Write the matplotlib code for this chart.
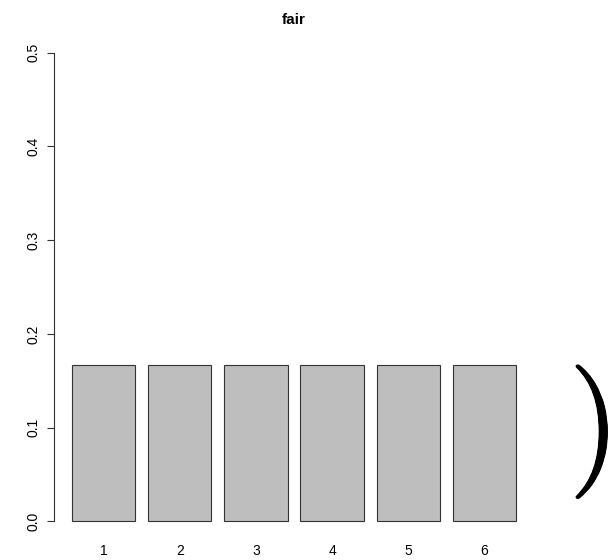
import matplotlib
matplotlib.use("Agg")
import matplotlib.pyplot as plt
import matplotlib.patheffects as pe
import numpy as np

plt.rcParams['font.family'] = ['Liberation Sans', 'DejaVu Sans']
plt.rcParams['mathtext.fontset'] = 'cm'

faces = ['1', '2', '3', '4', '5', '6']
probs = [1/6, 1/6, 1/6, 1/6, 1/6, 1/6]
yticks = [0.0, 0.1, 0.2, 0.3, 0.4, 0.5]
title = 'fair'

fig = plt.figure(figsize=(6.14, 5.6), dpi=100)
ax = fig.add_axes([54/614, 1-540/560, 480/614, 506/560])

x = 0.7 + 1.2*np.arange(len(faces))
ax.bar(x, probs, width=1.0, color='#BEBEBE', edgecolor='#333333', linewidth=0.8)
ax.set_xlim(-0.08, 7.48)
ax.set_ylim(-0.02, 0.52)
for s in ['top', 'right', 'bottom']:
    ax.spines[s].set_visible(False)
ax.spines['left'].set_bounds(0, 0.5)
ax.spines['left'].set_color('#333333')
ax.spines['left'].set_linewidth(0.8)
ax.set_yticks(yticks)
ax.set_yticklabels([f'{v:.1f}' for v in yticks], rotation=90, va='center', fontsize=10)
ax.tick_params(axis='y', length=5, width=0.8, color='#333333', pad=5)
ax.set_xticks(x)
ax.set_xticklabels(faces, fontsize=10)
ax.tick_params(axis='x', length=0, pad=3)
ax.set_title(title, fontweight='bold', fontsize=11, pad=7)

fig.text(589/614, 1-432/560, r'$)$', fontsize=96, ha='center', va='center',
         path_effects=[pe.withStroke(linewidth=0.7, foreground='black')])

fig.savefig('out.png', dpi=100)
